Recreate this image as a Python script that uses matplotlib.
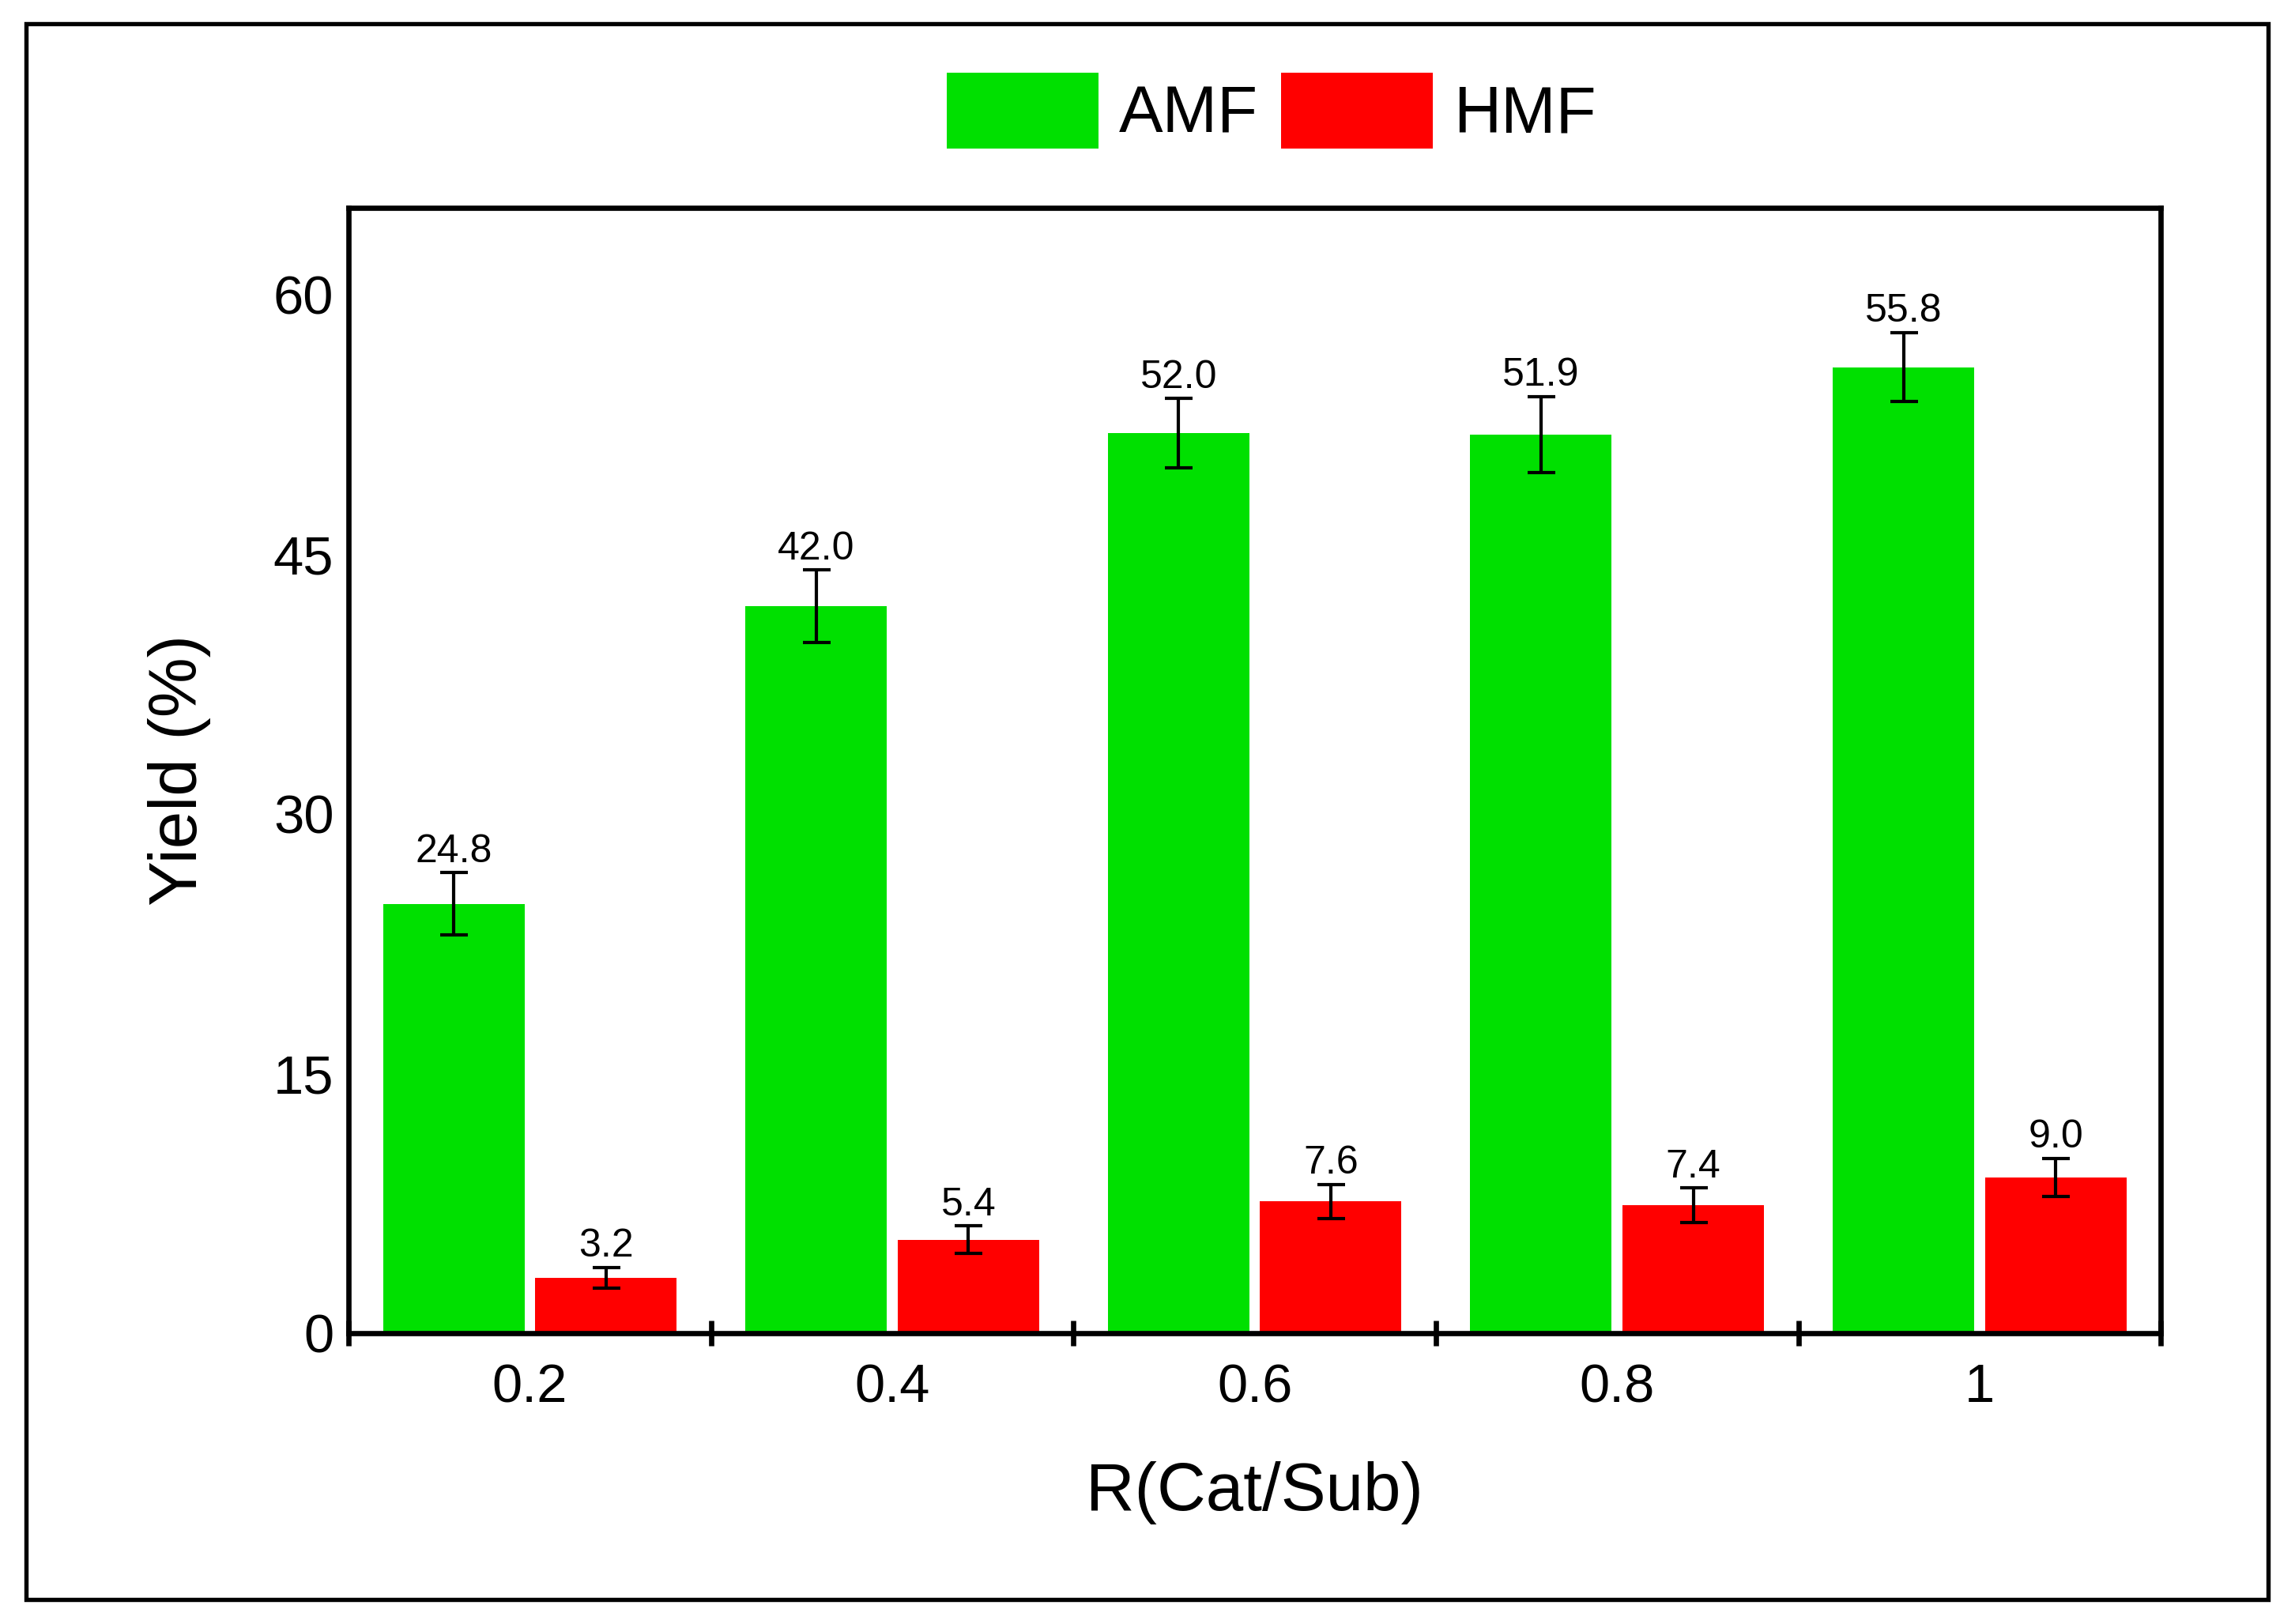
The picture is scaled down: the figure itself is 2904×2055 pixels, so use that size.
import matplotlib
matplotlib.use("Agg")
import matplotlib.pyplot as plt
import numpy as np
from matplotlib.patches import Rectangle

plt.rcParams['font.family'] = ['Liberation Sans', 'DejaVu Sans']

categories = ["0.2", "0.4", "0.6", "0.8", "1"]
amf = [24.8, 42.0, 52.0, 51.9, 55.8]
hmf = [3.2, 5.4, 7.6, 7.4, 9.0]
amf_err = [1.8, 2.1, 2.0, 2.2, 2.0]
hmf_err = [0.6, 0.8, 1.0, 1.0, 1.1]
yticks = [0, 15, 30, 45, 60]

fig = plt.figure(figsize=(9.68, 6.85), dpi=300)
ax = fig.add_axes([0.1519, 0.1791, 0.9415 - 0.1519, 0.872 - 0.1791])

x = np.arange(len(categories))
w = 0.39
off = 0.21
green = "#00E000"
red = "#FF0000"

b1 = ax.bar(x - off, amf, w, color=green, label="AMF", zorder=2)
b2 = ax.bar(x + off, hmf, w, color=red, label="HMF", zorder=2)
ekw = dict(fmt='none', ecolor='black', elinewidth=1.0, capsize=4.2, capthick=1.0, zorder=3)
ax.errorbar(x - off, amf, yerr=amf_err, **ekw)
ax.errorbar(x + off, hmf, yerr=hmf_err, **ekw)

for xi, v, e in zip(x - off, amf, amf_err):
    ax.annotate(f"{v:.1f}", (xi, v + e), xytext=(0, 0.8), textcoords='offset points',
                ha='center', va='bottom', fontsize=12)
for xi, v, e in zip(x + off, hmf, hmf_err):
    ax.annotate(f"{v:.1f}", (xi, v + e), xytext=(0, 0.8), textcoords='offset points',
                ha='center', va='bottom', fontsize=12)

ax.set_xlim(-0.5, len(categories) - 0.5)
ax.set_ylim(0, 65)
ax.set_yticks(yticks)
ax.set_xticks(x)
ax.set_xticklabels(categories)
ax.set_xticks(np.arange(-0.5, len(categories)), minor=True)
ax.tick_params(axis='x', which='major', length=0, pad=9, labelsize=16.5)
ax.tick_params(axis='x', which='minor', direction='inout', length=7.5, width=1.6)
ax.tick_params(axis='y', which='major', length=0, pad=4.5, labelsize=16.5)

for s in ax.spines.values():
    s.set_linewidth(1.6)

ax.set_ylabel("Yield (%)", fontsize=20.5)
ax.set_xlabel("R(Cat/Sub)", fontsize=20.5)
ax.yaxis.set_label_coords(-0.076, 0.5)
ax.xaxis.set_label_coords(0.5, -0.114)

fig.legend(handles=[b1, b2], labels=["AMF", "HMF"], ncol=2, frameon=False,
           fontsize=20, loc='center', bbox_to_anchor=(0.554, 0.932),
           handlelength=2.3, handleheight=1.39, handletextpad=0.31,
           columnspacing=0.35, borderaxespad=0, borderpad=0)

frame = Rectangle((0.0114, 0.0151), 0.9883 - 0.0114, 0.9854 - 0.0151,
                  transform=fig.transFigure, fill=False, edgecolor='black',
                  linewidth=1.3)
fig.patches.append(frame)

fig.savefig("out.png", dpi=300)
